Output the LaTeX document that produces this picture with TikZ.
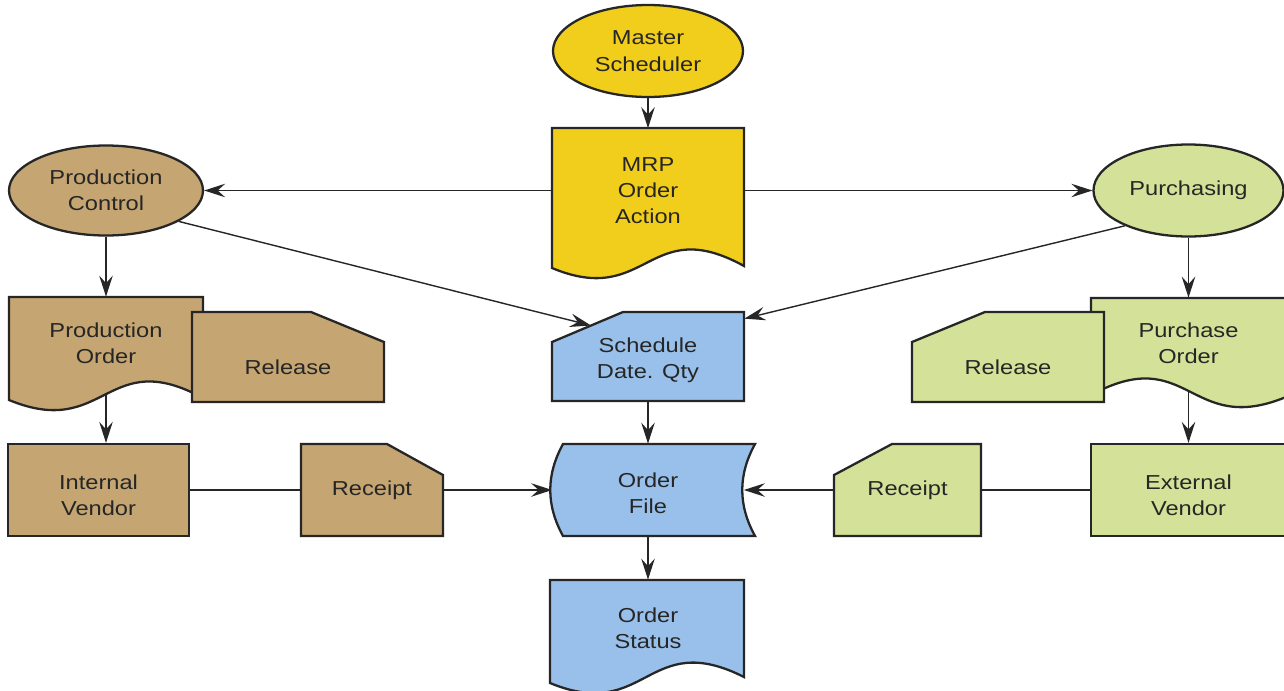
\documentclass[tikz,border=0pt]{standalone}
\usepackage{fontspec}
\setmainfont{Liberation Sans}[FakeStretch=1.17]
\usetikzlibrary{shapes.geometric,arrows.meta,calc}
\pgfdeclarelayer{bg}
\pgfdeclarelayer{shp}
\pgfsetlayers{bg,shp,main}
\definecolor{cyel}{RGB}{242,206,28}
\definecolor{ctan}{RGB}{197,165,114}
\definecolor{cgrn}{RGB}{212,225,152}
\definecolor{cblu}{RGB}{152,192,234}
\definecolor{cline}{RGB}{38,38,38}
\begin{document}
\begin{tikzpicture}[x=0.02cm,y=-0.02cm,
  lbl/.style={font=\fontsize{11.5}{15}\selectfont, align=center, text=cline},
  sz/.style 2 args={minimum width=#1*0.02cm, minimum height=#2*0.02cm},
  hold/.style={lbl, inner sep=0pt, draw=none},
  ell/.style={lbl, ellipse, draw=cline, line width=1.3pt, inner sep=0pt},
  rbox/.style={draw=cline, line width=1.3pt, inner sep=0pt},
  outl/.style={draw=cline, line width=1.3pt, line join=miter},
  con/.style={draw=cline, line width=0.8pt},
  arr/.style={con, -{Stealth[length=0.42cm,width=0.27cm,inset=0.15cm]}},
]
\useasboundingbox (0,0) rectangle (1284,690);
\begin{pgfonlayer}{bg}
\fill[white] (0,0) rectangle (1284,690);
\end{pgfonlayer}

% ---- nodes ----
\node[ell, fill=cyel, sz={190}{92}] (ms) at (648,51) {Master\\Scheduler};
\node[hold, sz={192}{124}] (mrp) at (648,190.5) {MRP\\Order\\Action};
\node[ell, fill=ctan, sz={194}{90}] (pc) at (106,190.5) {Production\\Control};
\node[ell, fill=cgrn, sz={190}{92}] (pu) at (1188.5,190.5) {Purchasing};
\node[hold, sz={194}{92}] (po) at (106,343) {Production\\Order};
\node[hold, sz={192}{70}] (relL) at (288,367) {Release};
\node[hold, sz={192}{82}] (sd) at (648,360) {Schedule\\Date. Qty};
\node[hold, sz={195}{90}] (pord) at (1188.5,343) {Purchase\\Order};
\node[hold, sz={192}{70}] (relR) at (1008,367) {Release};
\node[rbox, fill=ctan, sz={181}{92}, label={[lbl,yshift=-0.1cm]center:{Internal\\Vendor}}] (iv) at (98.5,490) {};
\node[hold, sz={142}{92}] (rcL) at (372,490) {Receipt};
\node[hold, sz={191}{92}, label={[lbl,yshift=-0.07cm]center:{Order\\File}}] (of) at (648,490) {};
\node[hold, sz={147}{92}] (rcR) at (907.5,490) {Receipt};
\node[rbox, fill=cgrn, sz={195}{92}, label={[lbl,yshift=-0.1cm]center:{External\\Vendor}}] (ev) at (1188.5,490) {};
\node[hold, sz={193}{96}] (os) at (648,628) {Order\\Status};
\coordinate (sdL) at (591,325.5);

% ---- shapes ----
\begin{pgfonlayer}{shp}
\draw[outl, fill=cyel] (552,128) -- (744,128) -- (744,266) .. controls (648,213) and (648,308) .. (552,268) -- cycle;
\draw[outl, fill=ctan] (9,297) -- (203,297) -- (203,398) .. controls (106,345) and (106,440) .. (9,400) -- cycle;
\draw[outl, fill=ctan] (192,312) -- (311,312) -- (384,342) -- (384,402) -- (192,402) -- cycle;
\draw[outl, fill=cblu] (552,342) -- (623,312) -- (744,312) -- (744,401) -- (552,401) -- cycle;
\draw[outl, fill=cgrn] (1091,298) -- (1286,298) -- (1286,397) .. controls (1189,437) and (1189,342) .. (1091,395) -- cycle;
\draw[outl, fill=cgrn] (912,342) -- (985,312) -- (1104,312) -- (1104,402) -- (912,402) -- cycle;
\draw[outl, fill=ctan] (301,444) -- (387,444) -- (443,475) -- (443,536) -- (301,536) -- cycle;
\draw[outl, fill=cgrn] (834,475) -- (892,444) -- (981,444) -- (981,536) -- (834,536) -- cycle;
\draw[outl, fill=cblu] (563,444) -- (755,444) .. controls (738,475) and (738,505) .. (755,536) -- (563,536) .. controls (546,505) and (546,475) .. (563,444) -- cycle;
\draw[outl, fill=cblu] (550,580) -- (744,580) -- (744,677) .. controls (647,628) and (647,723) .. (550,683) -- cycle;
\end{pgfonlayer}

% ---- connectors ----
\begin{pgfonlayer}{bg}
\draw[arr] (ms) -- (mrp.north);
\draw[arr] (mrp.west) -- (pc);
\draw[arr] (mrp.east) -- (pu);
\draw[arr] (pc.-23) -- (sdL);
\draw[arr] (pu.209) -- (sd.north east);
\draw[arr] (pc) -- (po.north);
\draw[arr] (po.south) -- (po.south |- iv.north);
\draw[arr] (pu) -- (pu.south |- pord.north);
\draw[arr] (pu.south |- pord.south) -- (pu.south |- ev.north);
\draw[arr] (sd.south) -- (of.north);
\draw[arr] (of.south) -- (os.north);
\draw[con] (iv.east) -- (rcL.west);
\draw[arr] (rcL.east) -- (of.west);
\draw[con] (ev.west) -- (rcR.east);
\draw[arr] (rcR.west) -- (of.east);
\end{pgfonlayer}
\end{tikzpicture}
\end{document}
